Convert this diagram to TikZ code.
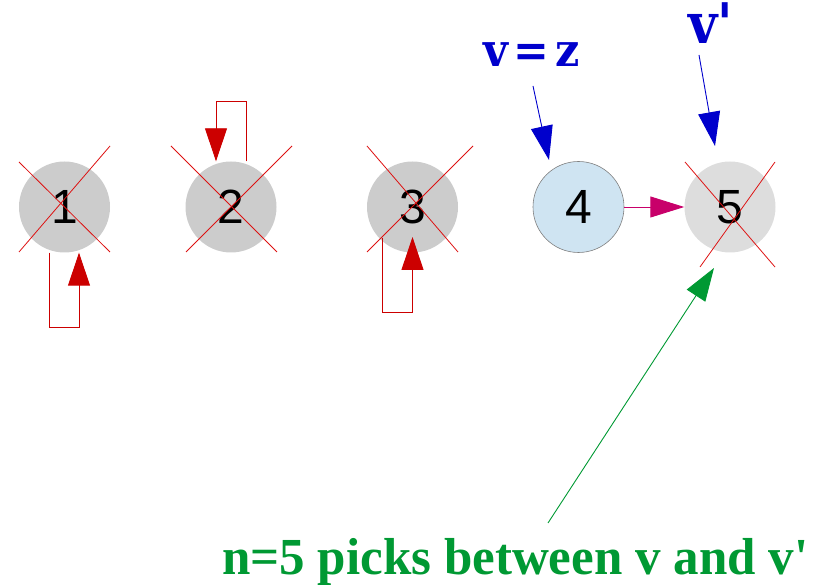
\documentclass[tikz,border=0pt]{standalone}
\usepackage{fontspec}
\setmainfont{Liberation Sans}
\newfontfamily\labfont{DejaVu Serif}
\newfontfamily\greenfont{Liberation Serif}
\usetikzlibrary{arrows.meta}
\definecolor{crossred}{HTML}{DD1111}
\definecolor{loopred}{HTML}{CC0000}
\definecolor{nodegray}{HTML}{CCCCCC}
\definecolor{lightgray5}{HTML}{DDDDDD}
\definecolor{lightblue4}{HTML}{CFE4F2}
\definecolor{magarrow}{HTML}{C8006A}
\definecolor{bluelab}{HTML}{0000CC}
\definecolor{greenlab}{HTML}{009933}
\tikzset{
  vtx/.style={circle, minimum size=91pt, inner sep=0pt, font=\fontsize{48}{48}\selectfont},
  crossline/.style={draw=crossred, line width=0.8pt},
  loopline/.style={draw=loopred, line width=0.9pt, -{Triangle[length=33pt,width=22pt]}},
  bigtip/.style={-{Triangle[length=34pt,width=22pt]}},
}
\begin{document}
\begin{tikzpicture}[x=1pt,y=-1pt]
\useasboundingbox (0,0) rectangle (823,585);
% nodes
\node[vtx, fill=nodegray] (n1) at (64.5,207) {1};
\node[vtx, fill=nodegray] (n2) at (231,207) {2};
\node[vtx, fill=nodegray] (n3) at (412.5,207) {3};
\node[vtx, fill=lightblue4, draw=gray, line width=0.6pt] (n4) at (578.5,207) {4};
\node[vtx, fill=lightgray5] (n5) at (730,207) {5};
% crosses
\draw[crossline] ([shift={(-45.5,-45)}]n1.center) -- ([shift={(45.5,45)}]n1.center);
\draw[crossline] ([shift={(45.5,-61)}]n1.center) -- ([shift={(-45.5,45)}]n1.center);
\draw[crossline] ([shift={(-60,-61)}]n2.center) -- ([shift={(46,45)}]n2.center);
\draw[crossline] ([shift={(61,-61)}]n2.center) -- ([shift={(-45,45)}]n2.center);
\draw[crossline] ([shift={(-45.5,-61)}]n3.center) -- ([shift={(45.5,45)}]n3.center);
\draw[crossline] ([shift={(60.5,-61)}]n3.center) -- ([shift={(-45.5,45)}]n3.center);
\draw[crossline] ([shift={(-45,-45)}]n5.center) -- ([shift={(45,60)}]n5.center);
\draw[crossline] ([shift={(45,-45)}]n5.center) -- ([shift={(-30,60)}]n5.center);
% self loops
\draw[loopline] ([xshift=-15.5pt]n1.south) -- ++(0,75) -| ([xshift=14.5pt]n1.south);
\draw[loopline] ([xshift=15pt]n2.north) -- ++(0,-60) -| ([xshift=-15pt]n2.north);
\draw[loopline] ([shift={(-30.5,31)}]n3.center) -- ([shift={(-30.5,105)}]n3.center) -| ([shift={(0,30)}]n3.center);
% 4 -> 5
\draw[draw=magarrow, line width=0.9pt, -{Triangle[length=34pt,width=21pt]}] (n4.east) -- (n5.west);
% labels
\node[anchor=base west, text=bluelab, font=\labfont\bfseries\fontsize{46}{46}\selectfont, inner sep=0pt] (vz) at (483,67) {\resizebox{97pt}{\height}{v\kern6pt=\kern7pt z}};
\node[anchor=base west, text=bluelab, font=\labfont\bfseries\fontsize{56}{56}\selectfont, inner sep=0pt, xscale=0.9] (vp) at (688,44) {v'};
\coordinate (vzs) at (533,86);
\coordinate (vzt) at (549,160);
\coordinate (vps) at (699,55);
\coordinate (vpt) at (715,146);
\draw[draw=bluelab, line width=0.9pt, bigtip] (vzs) -- (vzt);
\draw[draw=bluelab, line width=0.9pt, bigtip] (vps) -- (vpt);
\node[anchor=base west, text=greenlab, font=\greenfont\bfseries\fontsize{52}{52}\selectfont, inner sep=0pt] (nlab) at (222,574) {\resizebox{586pt}{\height}{n=5 picks between v and v'}};
\coordinate (gs) at (548,523);
\coordinate (gt) at (714,268);
\draw[draw=greenlab, line width=0.9pt, -{Triangle[length=33pt,width=22pt]}] (gs) -- (gt);
\end{tikzpicture}
\end{document}
